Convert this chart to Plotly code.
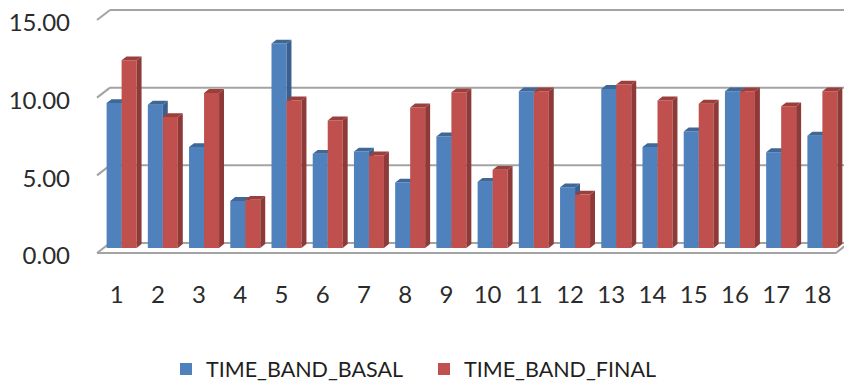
import plotly.graph_objects as go

# ---------------- data ----------------
categories = list(range(1, 19))
category_labels = [str(c) for c in categories]
time_band_basal = [9.33, 9.23, 6.50, 3.03, 13.16, 6.06, 6.21, 4.21, 7.18,
                   4.26, 10.09, 3.91, 10.24, 6.50, 7.50, 10.09, 6.17, 7.23]
time_band_final = [12.08, 8.43, 9.98, 3.10, 9.50, 8.21, 5.96, 9.05, 10.02,
                   5.03, 10.09, 3.44, 10.52, 9.50, 9.29, 10.09, 9.12, 10.09]
y_tick_values = [0, 5, 10, 15]
y_tick_labels = ["0.00", "5.00", "10.00", "15.00"]
series_names = ["TIME_BAND_BASAL", "TIME_BAND_FINAL"]

# ---------------- style ----------------
W = 0.364      # bar width (x units)
DX = 0.12      # 3-D depth offset, x units
DY = 0.25      # 3-D depth offset, y units
FONT = "Lato"
front_colors = ["#4F81BD", "#C0504D"]
side_colors = ["#3A6090", "#8E3A38"]
top_colors = ["#3F6898", "#9A3F3C"]

# plot area pixel geometry
FIG_W, FIG_H = 844, 385
ML, MR, MT, MB = 101, 1, 15, 137
PW, PH = FIG_W - ML - MR, FIG_H - MT - MB


def faces(values, right_edge_offset):
    sx, sy, tx, ty = [], [], [], []
    for c, v in zip(categories, values):
        xr = c + right_edge_offset
        xl = xr - W
        sx += [xr, xr + DX, xr + DX, xr, xr, None]
        sy += [0, DY, v + DY, v, 0, None]
        tx += [xl, xl + DX, xr + DX, xr, xl, None]
        ty += [v, v + DY, v + DY, v, v, None]
    return sx, sy, tx, ty


fig = go.Figure()
series = [time_band_basal, time_band_final]
offsets = [-W, 0.0]
axes = [("x", "y"), ("x2", "y2")]
for k in range(2):
    xa, ya = axes[k]
    fig.add_trace(go.Bar(
        x=categories, y=series[k], name=series_names[k],
        offset=offsets[k], width=W,
        marker=dict(color=front_colors[k], line=dict(width=0)),
        xaxis=xa, yaxis=ya, showlegend=True))
    sx, sy, tx, ty = faces(series[k], offsets[k] + W)
    fig.add_trace(go.Scatter(x=sx, y=sy, mode="lines", fill="toself",
                             fillcolor=side_colors[k], line=dict(width=0),
                             hoverinfo="skip", showlegend=False,
                             xaxis=xa, yaxis=ya))
    fig.add_trace(go.Scatter(x=tx, y=ty, mode="lines", fill="toself",
                             fillcolor=top_colors[k], line=dict(width=0),
                             hoverinfo="skip", showlegend=False,
                             xaxis=xa, yaxis=ya))

# ---------------- walls / gridlines ----------------
def px_x(p):
    return (p - ML) / PW


def px_y(p):
    return (FIG_H - MB - p) / PH


PX_PER_UNIT = PH / 15.0
shapes = []
grid_color = "#A3A3A3"
for v in y_tick_values:
    back = (FIG_H - MB - 5) - v * PX_PER_UNIT
    shapes.append(dict(type="line", xref="paper", yref="paper", layer="below",
                       x0=px_x(110), x1=px_x(846), y0=px_y(back), y1=px_y(back),
                       line=dict(color=grid_color, width=2)))
    shapes.append(dict(type="line", xref="paper", yref="paper", layer="below",
                       x0=px_x(97), x1=px_x(110), y0=px_y(back + 10), y1=px_y(back),
                       line=dict(color=grid_color, width=2)))
# floor front edge
floor_front = FIG_H - MB + 5
shapes.append(dict(type="line", xref="paper", yref="paper", layer="below",
                   x0=px_x(97), x1=px_x(836), y0=px_y(floor_front), y1=px_y(floor_front),
                   line=dict(color=grid_color, width=2)))
shapes.append(dict(type="line", xref="paper", yref="paper", layer="below",
                   x0=px_x(836), x1=px_x(846), y0=px_y(floor_front), y1=px_y(floor_front - 8),
                   line=dict(color=grid_color, width=2)))

fig.update_layout(
    width=FIG_W, height=FIG_H,
    margin=dict(l=ML, r=MR, t=MT, b=MB, autoexpand=False),
    paper_bgcolor="white", plot_bgcolor="rgba(0,0,0,0)",
    font=dict(family=FONT, size=24, color="#2b2b2b"),
    shapes=shapes,
    xaxis=dict(range=[0.5, 18.5], tickvals=categories, ticktext=category_labels,
               showgrid=False, zeroline=False, showline=False, ticks="",
               ticklabelshift=-5, ticklabelstandoff=30, fixedrange=True,
               ticklabeloverflow="allow"),
    yaxis=dict(range=[0, 15.001], tickvals=y_tick_values, ticktext=y_tick_labels,
               showgrid=False, zeroline=False, showline=False, ticks="",
               ticklabelshift=8, ticklabelstandoff=30, fixedrange=True,
               ticklabeloverflow="allow"),
    xaxis2=dict(range=[0.5, 18.5], overlaying="x", visible=False, fixedrange=True),
    yaxis2=dict(range=[0, 15.001], overlaying="y", visible=False, fixedrange=True),
    legend=dict(orientation="h", x=px_x(166), xanchor="left",
                y=px_y(369), yanchor="middle",
                font=dict(family=FONT, size=21.5, color="#1f1f1f"),
                entrywidth=213, entrywidthmode="pixels",
                bgcolor="rgba(0,0,0,0)"),
    showlegend=True,
    barmode="overlay",
)

fig.write_html("out.html")
